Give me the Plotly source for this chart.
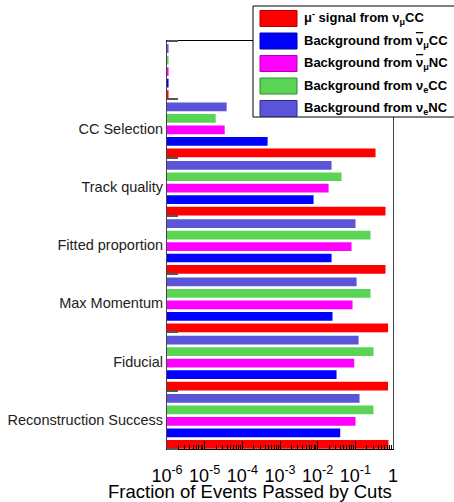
import numpy as np
import plotly.graph_objects as go

# Cut stages, bottom to top (last row is an unlabelled empty stage)
cuts = ["Reconstruction Success", "Fiducial", "Max Momentum",
        "Fitted proportion", "Track quality", "CC Selection", ""]

# Fraction of events passing each cut, per sample
signal_numu_cc = [0.76, 0.74, 0.74, 0.632, 0.632, 0.344, 1.1e-6]
bkg_numubar_cc = [0.0397, 0.0317, 0.0248, 0.0234, 0.00778, 4.69e-4, 1.1e-6]
bkg_numubar_nc = [0.101, 0.0935, 0.0843, 0.0793, 0.0195, 3.4e-5, 1.1e-6]
bkg_nue_cc = [0.304, 0.304, 0.253, 0.253, 0.043, 1.96e-5, 1.1e-6]
bkg_nue_nc = [0.129, 0.122, 0.108, 0.101, 0.0234, 3.84e-5, 1.1e-6]

NUBAR = '<span style="text-decoration:overline">ν</span>'
series_names = [
    "μ<sup>-</sup> signal from ν<sub>μ</sub>CC",
    "Background from " + NUBAR + "<sub>μ</sub>CC",
    "Background from " + NUBAR + "<sub>μ</sub>NC",
    "Background from ν<sub>e</sub>CC",
    "Background from ν<sub>e</sub>NC",
]
series_values = [signal_numu_cc, bkg_numubar_cc, bkg_numubar_nc, bkg_nue_cc, bkg_nue_nc]
fill_colors = ["#FF0000", "#0000FF", "#FF00FF", "#59D454", "#5954D8"]
edge_colors = ["#B00000", "#0000A0", "#B000B0", "#2E8A2E", "#2E2A90"]

decades = [1e-6, 1e-5, 1e-4, 1e-3, 1e-2, 1e-1, 1]
decade_labels = ["10<sup>-6</sup>", "10<sup>-5</sup>", "10<sup>-4</sup>",
                 "10<sup>-3</sup>", "10<sup>-2</sup>", "10<sup>-1</sup>", "1"]

FONT = "Liberation Sans, Arial, Helvetica, sans-serif"
W, H = 454, 502
L, R, T, B = 167, 61, 41, 53
plot_w = W - L - R
plot_h = H - T - B

n_cat = len(cuts)
cat_idx = np.arange(n_cat)

fig = go.Figure()
for j, (name, vals) in enumerate(zip(series_names, series_values)):
    fig.add_trace(go.Bar(
        x=vals,
        y=cat_idx + 0.08 + 0.197 * j,
        orientation="h",
        width=0.15,
        name=name,
        marker=dict(color=fill_colors[j], line=dict(width=0)),
        showlegend=False,
    ))

minor_x = [k * 10.0 ** d for d in range(-6, 0) for k in range(2, 10)]

fig.update_layout(
    width=W, height=H,
    margin=dict(l=L, r=R, t=T, b=B, pad=0, autoexpand=False),
    paper_bgcolor="white", plot_bgcolor="white",
    font=dict(family=FONT, color="black"),
    barmode="overlay",
    xaxis=dict(
        type="log", range=[-6, 0], automargin=False,
        tickmode="array", tickvals=decades, ticktext=decade_labels,
        ticks="inside", ticklen=8, tickwidth=1, tickcolor="black",
        tickfont=dict(size=18, family=FONT, color="black"),
        ticklabelstandoff=10,
        showline=True, linecolor="black", linewidth=1, mirror=True,
        showgrid=False, zeroline=False,
        minor=dict(tickvals=minor_x, ticks="inside", ticklen=4,
                   tickcolor="black", showgrid=False),
    ),
    yaxis=dict(
        range=[0, n_cat], automargin=False,
        tickmode="array", tickvals=cat_idx + 0.5, ticktext=cuts,
        ticks="", tickfont=dict(size=14.5, family=FONT, color="#222"),
        showline=True, linecolor="#444", linewidth=1, mirror=True,
        showgrid=False, zeroline=False,
        minor=dict(tickvals=list(range(n_cat + 1)), ticks="inside",
                   ticklen=11, tickwidth=1.5, tickcolor="#555", showgrid=False),
    ),
)


def px_x(px):
    return (px - L) / plot_w


def px_y(py):
    return (H - B - py) / plot_h


# Axis title, right-aligned at the end of the axis
fig.add_annotation(
    text="Fraction of Events Passed by Cuts",
    xref="paper", yref="paper", x=px_x(394), y=px_y(491),
    xanchor="right", yanchor="middle", showarrow=False,
    font=dict(size=18.5, family=FONT, color="black"),
)

# Legend box with swatches
fig.add_shape(type="rect", xref="paper", yref="paper",
              x0=px_x(253), x1=px_x(460), y0=px_y(117), y1=px_y(6),
              fillcolor="white", line=dict(color="black", width=1), layer="above")
row_y = [18.5, 41, 63.5, 86, 108.5]
for j, name in enumerate(series_names):
    cy = row_y[j]
    fig.add_shape(type="rect", xref="paper", yref="paper",
                  x0=px_x(260), x1=px_x(297), y0=px_y(cy + 8), y1=px_y(cy - 8),
                  fillcolor=fill_colors[j], line=dict(color=edge_colors[j], width=1),
                  layer="above")
    fig.add_annotation(
        text="<b>" + name + "</b>",
        xref="paper", yref="paper", x=px_x(302), y=px_y(cy),
        xanchor="left", yanchor="middle", showarrow=False,
        font=dict(size=13, family=FONT, color="black"),
    )

fig.write_html("out.html")
